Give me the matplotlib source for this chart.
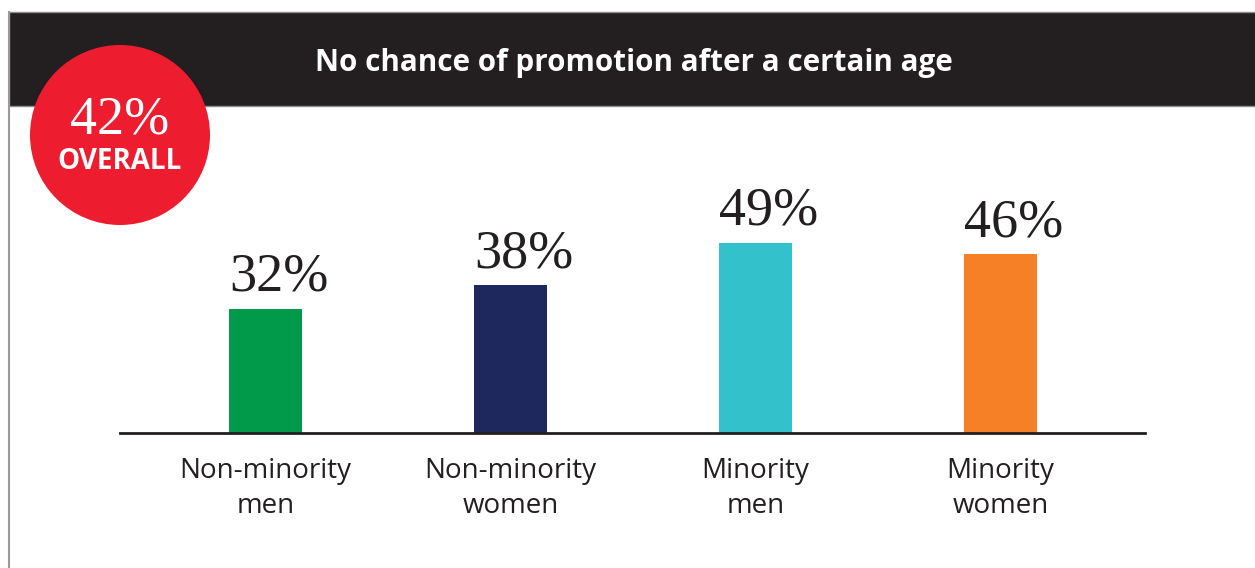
import matplotlib
matplotlib.use("Agg")
import matplotlib.pyplot as plt
from matplotlib.patches import Rectangle, Circle

# survey answers: "no chance of promotion after a certain age"
groups = ["Non-minority\nmen", "Non-minority\nwomen", "Minority\nmen", "Minority\nwomen"]
shares = [32, 38, 49, 46]
overall = 42
title = "No chance of promotion after a certain age"

bar_colors = ["#009a4a", "#1e285c", "#33c1cb", "#f58025"]
ink = "#231f20"
red = "#ed1c2e"
sans = "Open Sans"
serif = "Liberation Serif"

W, H = 1255, 568
fig = plt.figure(figsize=(W / 100, H / 100), dpi=100)

# background layer in pixel units: header band, frame and badge
bg = fig.add_axes([0, 0, 1, 1])
bg.set_xlim(0, W)
bg.set_ylim(H, 0)
bg.axis("off")
bg.add_patch(Rectangle((9, 12), W, 94, facecolor=ink, edgecolor="#8c8c8c", lw=1))
bg.plot([9, 9], [12, H], color="#9a9a9a", lw=1.5)
bg.text(634, 71, title, color="white", fontsize=21.3, fontweight="bold",
        family=sans, ha="center", va="baseline")

bg.add_patch(Circle((120, 135), 90, facecolor=red, edgecolor="none", zorder=3))
bg.text(120, 134, f"{overall}%", color="white", fontsize=39, family=serif,
        ha="center", va="baseline", zorder=4)
bg.text(120, 169, "OVERALL", color="white", fontsize=20, fontweight="bold",
        family=sans, ha="center", va="baseline", zorder=4)

# bar chart
bar_w = 0.298
ax = fig.add_axes([120 / W, (H - 433) / H, 1025 / W, 311 / H])
ax.patch.set_alpha(0)
x = list(range(len(shares)))
ax.bar(x, shares, width=bar_w, color=bar_colors)
ax.set_xlim(-0.594, 3.59)
ax.set_ylim(0, 80)

# value labels sit above each bar, starting at its left edge
for xi, v in zip(x, shares):
    ax.annotate(f"{v}%", (xi - bar_w / 2, v), xytext=(0, 13), textcoords="offset points",
                ha="left", va="baseline", fontsize=39, family=serif, color=ink)

for side in ["top", "left", "right"]:
    ax.spines[side].set_visible(False)
ax.spines["bottom"].set_color(ink)
ax.spines["bottom"].set_linewidth(2)
ax.set_yticks([])
ax.set_xticks(x)
ax.set_xticklabels(groups, fontsize=20, family=sans, color=ink, linespacing=1.37)
ax.tick_params(axis="x", length=0, pad=17)

fig.savefig("out.png", dpi=100)
